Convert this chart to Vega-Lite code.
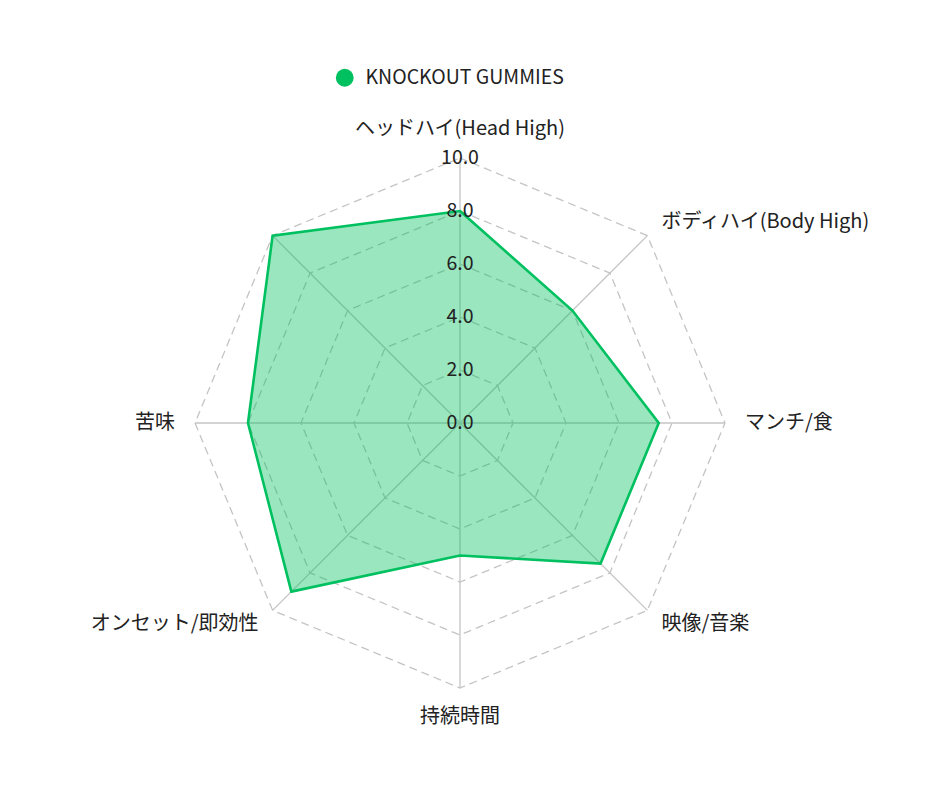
{
  "$schema": "https://vega.github.io/schema/vega-lite/v6.json",
  "width": 940,
  "height": 788,
  "padding": 0,
  "autosize": {"type": "none"},
  "background": "white",
  "config": {"view": {"stroke": null}, "font": "Noto Sans CJK JP"},
  "datasets": {
    "axes": [
      {"idx": 0, "label": "ヘッドハイ(Head High)", "value": 8.0},
      {"idx": 1, "label": "ボディハイ(Body High)", "value": 6.0},
      {"idx": 2, "label": "マンチ/食", "value": 7.5},
      {"idx": 3, "label": "映像/音楽", "value": 7.5},
      {"idx": 4, "label": "持続時間", "value": 5.0},
      {"idx": 5, "label": "オンセット/即効性", "value": 9.0},
      {"idx": 6, "label": "苦味", "value": 8.0},
      {"idx": 7, "label": "", "value": 10.0}
    ],
    "rings": [
      {"level": 2, "idx": [0, 1, 2, 3, 4, 5, 6, 7]},
      {"level": 4, "idx": [0, 1, 2, 3, 4, 5, 6, 7]},
      {"level": 6, "idx": [0, 1, 2, 3, 4, 5, 6, 7]},
      {"level": 8, "idx": [0, 1, 2, 3, 4, 5, 6, 7]},
      {"level": 10, "idx": [0, 1, 2, 3, 4, 5, 6, 7]}
    ],
    "ticks": [
      {"tick": 0}, {"tick": 2}, {"tick": 4}, {"tick": 6}, {"tick": 8}, {"tick": 10}
    ]
  },
  "encoding": {
    "x": {"field": "x", "type": "quantitative", "axis": null, "scale": {"domain": [-17.358, 18.113], "nice": false, "zero": false}},
    "y": {"field": "y", "type": "quantitative", "axis": null, "scale": {"domain": [-13.774, 15.962], "nice": false, "zero": false}}
  },
  "layer": [
    {
      "data": {"name": "rings"},
      "transform": [
        {"flatten": ["idx"]},
        {"calculate": "PI/2 - datum.idx*PI/4", "as": "ang"},
        {"calculate": "datum.level*cos(datum.ang)", "as": "x"},
        {"calculate": "datum.level*sin(datum.ang)", "as": "y"}
      ],
      "mark": {"type": "line", "interpolate": "linear-closed", "stroke": "#c4c4c4", "strokeWidth": 1.3, "strokeDash": [8, 5]},
      "encoding": {
        "detail": {"field": "level", "type": "nominal"},
        "order": {"field": "idx", "type": "quantitative"}
      }
    },
    {
      "data": {"name": "axes"},
      "transform": [
        {"calculate": "PI/2 - datum.idx*PI/4", "as": "ang"},
        {"calculate": "10*cos(datum.ang)", "as": "x"},
        {"calculate": "10*sin(datum.ang)", "as": "y"}
      ],
      "mark": {"type": "rule", "stroke": "#c4c4c4", "strokeWidth": 1.3},
      "encoding": {
        "x2": {"datum": 0},
        "y2": {"datum": 0}
      }
    },
    {
      "data": {"name": "axes"},
      "transform": [
        {"calculate": "PI/2 - datum.idx*PI/4", "as": "ang"},
        {"calculate": "datum.value*cos(datum.ang)", "as": "x"},
        {"calculate": "datum.value*sin(datum.ang)", "as": "y"}
      ],
      "mark": {"type": "line", "interpolate": "linear-closed", "fill": "#00C060", "fillOpacity": 0.4, "strokeWidth": 2.6},
      "encoding": {
        "order": {"field": "idx", "type": "quantitative"},
        "stroke": {
          "datum": "KNOCKOUT GUMMIES",
          "type": "nominal",
          "scale": {"range": ["#00C060"]},
          "legend": {
            "title": null,
            "orient": "none",
            "legendX": 335,
            "legendY": 68,
            "padding": 0,
            "symbolType": "circle",
            "symbolSize": 320,
            "symbolFillColor": "#00C060",
            "symbolStrokeWidth": 0,
            "labelFont": "Noto Sans CJK JP",
            "labelFontSize": 19.5,
            "labelColor": "#222222",
            "labelOffset": 11,
            "labelLimit": 0
          }
        }
      }
    },
    {
      "data": {"name": "ticks"},
      "transform": [
        {"calculate": "0", "as": "x"},
        {"calculate": "datum.tick", "as": "y"}
      ],
      "mark": {"type": "text", "align": "center", "baseline": "middle", "fontSize": 19.5, "fill": "#222222", "font": "Noto Sans CJK JP"},
      "encoding": {"text": {"field": "tick", "type": "quantitative", "format": ".1f"}}
    },
    {
      "data": {"name": "axes"},
      "transform": [
        {"filter": "datum.idx == 0 || datum.idx == 4"},
        {"calculate": "PI/2 - datum.idx*PI/4", "as": "ang"},
        {"calculate": "11.1*cos(datum.ang)", "as": "x"},
        {"calculate": "11.1*sin(datum.ang)", "as": "y"}
      ],
      "mark": {"type": "text", "align": "center", "baseline": "middle", "fontSize": 20, "fill": "#222222", "font": "Noto Sans CJK JP"},
      "encoding": {"text": {"field": "label", "type": "nominal"}}
    },
    {
      "data": {"name": "axes"},
      "transform": [
        {"filter": "datum.idx >= 1 && datum.idx <= 3"},
        {"calculate": "PI/2 - datum.idx*PI/4", "as": "ang"},
        {"calculate": "10.75*cos(datum.ang)", "as": "x"},
        {"calculate": "10.75*sin(datum.ang)", "as": "y"}
      ],
      "mark": {"type": "text", "align": "left", "baseline": "middle", "fontSize": 20, "fill": "#222222", "font": "Noto Sans CJK JP"},
      "encoding": {"text": {"field": "label", "type": "nominal"}}
    },
    {
      "data": {"name": "axes"},
      "transform": [
        {"filter": "datum.idx >= 5"},
        {"calculate": "PI/2 - datum.idx*PI/4", "as": "ang"},
        {"calculate": "10.75*cos(datum.ang)", "as": "x"},
        {"calculate": "10.75*sin(datum.ang)", "as": "y"}
      ],
      "mark": {"type": "text", "align": "right", "baseline": "middle", "fontSize": 20, "fill": "#222222", "font": "Noto Sans CJK JP"},
      "encoding": {"text": {"field": "label", "type": "nominal"}}
    }
  ]
}
